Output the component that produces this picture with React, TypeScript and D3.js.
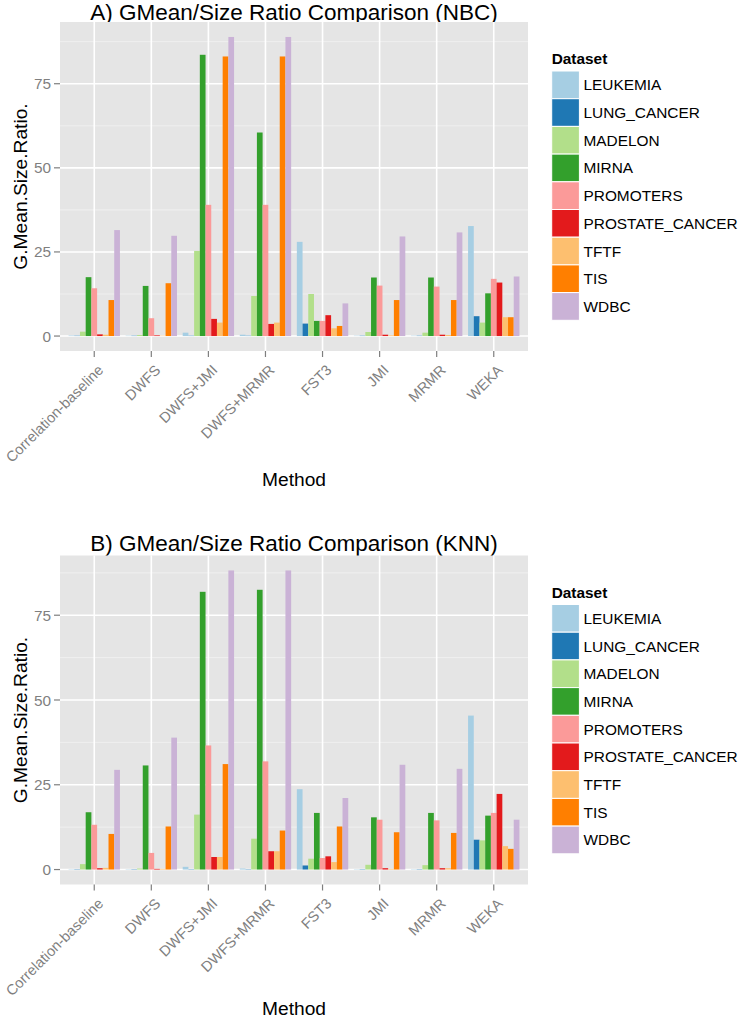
import React from "react";
import * as d3 from "d3";

const methods = ["Correlation-baseline", "DWFS", "DWFS+JMI", "DWFS+MRMR", "FST3", "JMI", "MRMR", "WEKA"];
const datasets = ["LEUKEMIA", "LUNG_CANCER", "MADELON", "MIRNA", "PROMOTERS", "PROSTATE_CANCER", "TFTF", "TIS", "WDBC"];
const colors = ["#A6CEE3", "#1F78B4", "#B2DF8A", "#33A02C", "#FB9A99", "#E31A1C", "#FDBF6F", "#FF7F00", "#CAB2D6"];
const yTicks = [0, 25, 50, 75];
const minorTicks = [12.5, 37.5, 62.5, 87.5];

// values per method, in dataset order
const nbcValues = [
  [0.15, 0.1, 1.3, 17.5, 14.2, 0.5, 0.4, 10.7, 31.5],
  [0.1, 0.1, 0.3, 14.9, 5.3, 0.2, 0.1, 15.7, 29.8],
  [1.0, 0.1, 25.3, 83.6, 39.0, 5.1, 4.0, 83.1, 88.9],
  [0.4, 0.1, 11.9, 60.5, 39.0, 3.6, 4.0, 83.1, 88.9],
  [28.0, 3.7, 12.5, 4.5, 4.5, 6.2, 2.3, 3.0, 9.7],
  [0.1, 0.1, 1.2, 17.4, 15.0, 0.4, 0.2, 10.7, 29.6],
  [0.1, 0.1, 1.0, 17.4, 14.7, 0.4, 0.3, 10.7, 30.8],
  [32.7, 5.9, 4.0, 12.7, 17.0, 15.9, 5.6, 5.6, 17.7],
];
const knnValues = [
  [0.1, 0.1, 1.6, 16.9, 13.2, 0.4, 0.5, 10.5, 29.4],
  [0.1, 0.1, 0.3, 30.7, 4.9, 0.2, 0.2, 12.7, 38.9],
  [0.8, 0.1, 16.2, 81.9, 36.6, 3.7, 3.7, 31.1, 88.2],
  [0.3, 0.1, 9.1, 82.5, 31.9, 5.4, 5.4, 11.5, 88.2],
  [23.7, 1.2, 3.2, 16.7, 3.4, 3.9, 2.2, 12.7, 21.1],
  [0.1, 0.1, 1.4, 15.4, 14.7, 0.4, 0.2, 11.0, 30.9],
  [0.1, 0.1, 1.3, 16.7, 14.5, 0.4, 0.4, 10.8, 29.7],
  [45.4, 8.8, 8.6, 15.9, 16.7, 22.3, 6.9, 6.1, 14.7],
];

const FONT = "'Liberation Sans', Arial, Helvetica, sans-serif";

function Panel({ title, values, top }: { title: string; values: number[][]; top: number }) {
  const left = 60, right = 528;
  const plotTop = top + 22, plotBottom = top + 351;
  const maxV = d3.max(values.flat()) as number;
  const pad = maxV * 0.05;
  const y = d3.scaleLinear().domain([-pad, maxV + pad]).range([plotBottom, plotTop]);
  const unit = (right - left) / (methods.length - 1 + 1.2);
  const x = d3.scalePoint<string>().domain(methods).range([left + 0.6 * unit, right - 0.6 * unit]);
  const inner = d3.scaleBand<string>().domain(datasets).range([-0.45 * unit, 0.45 * unit]).padding(0);
  const legendX = 551.7;
  const keyH = 27.7;
  const legendTop = top + 71;
  const methodY = Math.min(plotBottom + 135, 1014.5);
  const titleY = Math.max(top + 17, 20);
  return (
    <g>
      <text x={(left + right) / 2} y={titleY} textAnchor="middle" fontSize={22.5} fontFamily={FONT} fill="#000">{title}</text>
      <rect x={left} y={plotTop} width={right - left} height={plotBottom - plotTop} fill="#E5E5E5" />
      {minorTicks.map((t) => (
        <line key={"m" + t} x1={left} x2={right} y1={y(t)} y2={y(t)} stroke="#F2F2F2" strokeWidth={0.8} />
      ))}
      {yTicks.map((t) => (
        <line key={"g" + t} x1={left} x2={right} y1={y(t)} y2={y(t)} stroke="#FFFFFF" strokeWidth={1.6} />
      ))}
      {methods.map((m) => (
        <line key={"v" + m} x1={x(m)} x2={x(m)} y1={plotTop} y2={plotBottom} stroke="#FFFFFF" strokeWidth={1.6} />
      ))}
      {methods.map((m, i) => (
        <g key={"bars" + m}>
          {datasets.map((d, j) => {
            const v = values[i][j];
            const bx = (x(m) as number) + (inner(d) as number);
            return <rect key={d} x={bx} y={y(v)} width={inner.bandwidth()} height={y(0) - y(v)} fill={colors[j]} />;
          })}
        </g>
      ))}
      {/* y axis */}
      {yTicks.map((t) => (
        <g key={"yt" + t}>
          <line x1={left - 6} x2={left} y1={y(t)} y2={y(t)} stroke="#7F7F7F" strokeWidth={1.2} />
          <text x={left - 9} y={y(t)} dy="0.36em" textAnchor="end" fontSize={15.4} fontFamily={FONT} fill="#7F7F7F">{t}</text>
        </g>
      ))}
      {/* x axis */}
      {methods.map((m) => (
        <g key={"xt" + m}>
          <line x1={x(m)} x2={x(m)} y1={plotBottom} y2={plotBottom + 6} stroke="#7F7F7F" strokeWidth={1.2} />
          <text transform={`translate(${(x(m) as number) + 10},${plotBottom + 20}) rotate(-45)`} textAnchor="end" fontSize={14.6} fontFamily={FONT} fill="#7F7F7F">{m}</text>
        </g>
      ))}
      <text x={(left + right) / 2} y={methodY} textAnchor="middle" fontSize={19.2} fontFamily={FONT} fill="#000">Method</text>
      <text transform={`translate(${26.5},${(plotTop + plotBottom) / 2}) rotate(-90)`} textAnchor="middle" fontSize={19.2} fontFamily={FONT} fill="#000">G.Mean.Size.Ratio.</text>
      {/* legend */}
      <text x={legendX} y={top + 64} fontSize={15.4} fontWeight="bold" fontFamily={FONT} fill="#000">Dataset</text>
      {datasets.map((d, j) => (
        <g key={"lg" + d}>
          <rect x={legendX} y={legendTop + j * keyH} width={keyH} height={keyH} fill={colors[j]} stroke="#FFFFFF" strokeWidth={1} />
          <text x={583.5} y={legendTop + j * keyH + keyH / 2} dy="0.36em" fontSize={15.4} fontFamily={FONT} fill="#000">{d}</text>
        </g>
      ))}
    </g>
  );
}

export default function App() {
  return (
    <svg width={740} height={1020} style={{ position: "absolute", left: 0, top: 0, background: "#fff" }}>
      <rect x={0} y={0} width={740} height={1020} fill="#FFFFFF" />
      <Panel title="A) GMean/Size Ratio Comparison (NBC)" values={nbcValues} top={0} />
      <Panel title="B) GMean/Size Ratio Comparison (KNN)" values={knnValues} top={533.5} />
    </svg>
  );
}
